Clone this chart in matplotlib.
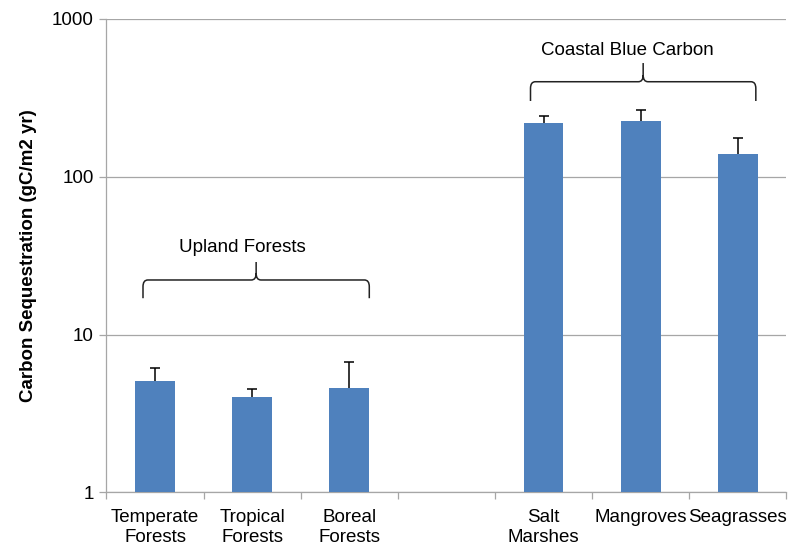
import matplotlib.pyplot as plt
from matplotlib.path import Path
from matplotlib.patches import PathPatch
import matplotlib.transforms as mtransforms
from matplotlib.ticker import FixedLocator, NullLocator

plt.rcParams['font.family'] = ['Liberation Sans', 'DejaVu Sans']

# Data
categories = ['Temperate\nForests', 'Tropical\nForests', 'Boreal\nForests', '',
              'Salt\nMarshes', 'Mangroves', 'Seagrasses']
values = [5.1, 4.0, 4.6, None, 218, 226, 139]
upper = [6.1, 4.5, 6.7, None, 242, 265, 176]
group_labels = ['Upland Forests', 'Coastal Blue Carbon']

fig = plt.figure(figsize=(7.97, 5.45), dpi=100)
ax = fig.add_axes([0.1336, 0.0967, 0.853, 0.8686])

xs = [i for i, v in enumerate(values) if v is not None]
vals = [values[i] for i in xs]
ups = [upper[i] for i in xs]

ax.bar(xs, vals, width=0.41, color='#4F81BD', zorder=3)
# upper error bars only, cap on top
ax.vlines(xs, vals, ups, color='black', linewidth=1.1, zorder=4)
ax.plot(xs, ups, ls='none', marker='_', ms=7, mew=1.1, color='black', zorder=4)

ax.set_yscale('log')
ax.set_ylim(1, 1000)
ax.set_xlim(-0.5, len(categories) - 0.5)
ax.yaxis.set_major_locator(FixedLocator([1, 10, 100, 1000]))
ax.yaxis.set_minor_locator(NullLocator())
ax.set_yticklabels(['1', '10', '100', '1000'])
ax.yaxis.grid(True, color='#a6a6a6', linewidth=0.9, zorder=0)

# category labels between boundary ticks
ax.set_xticks([i - 0.5 for i in range(len(categories) + 1)])
ax.set_xticklabels([])
ax.set_xticks(range(len(categories)), minor=True)
ax.set_xticklabels(categories, minor=True, fontsize=13.5, linespacing=1.2)
ax.tick_params(axis='x', which='minor', length=0, pad=12)
ax.tick_params(axis='x', which='major', length=5, color='#a6a6a6', width=0.9)
ax.tick_params(axis='y', length=5, color='#a6a6a6', width=0.9, labelsize=13.5, pad=4)

for s in ['top', 'right']:
    ax.spines[s].set_visible(False)
for s in ['left', 'bottom']:
    ax.spines[s].set_color('#a6a6a6')
    ax.spines[s].set_linewidth(0.9)

ax.set_ylabel('Carbon Sequestration (gC/m2 yr)', fontsize=13.5, fontweight='bold', labelpad=11)

trans = mtransforms.blended_transform_factory(ax.transData, ax.transAxes)


def brace(x0, x1, y_end, y_line, y_tip, rx=0.05, ry=0.014):
    xc = (x0 + x1) / 2
    verts = [(x0, y_end), (x0, y_line - ry), (x0, y_line), (x0 + rx, y_line),
             (xc - rx, y_line), (xc, y_line), (xc, y_line + ry), (xc, y_tip),
             (xc, y_line + ry), (xc, y_line), (xc + rx, y_line),
             (x1 - rx, y_line), (x1, y_line), (x1, y_line - ry), (x1, y_end)]
    codes = [Path.MOVETO, Path.LINETO, Path.CURVE3, Path.CURVE3,
             Path.LINETO, Path.CURVE3, Path.CURVE3, Path.LINETO,
             Path.MOVETO, Path.CURVE3, Path.CURVE3,
             Path.LINETO, Path.CURVE3, Path.CURVE3, Path.LINETO]
    ax.add_patch(PathPatch(Path(verts, codes), transform=trans, fill=False,
                           edgecolor='#222222', linewidth=1.1, clip_on=False, zorder=4))


brace(-0.124, 2.206, 0.410, 0.4485, 0.4865)
ax.text(0.9, 0.518, group_labels[0], transform=trans, ha='center', va='center', fontsize=13.5)
brace(3.866, 6.186, 0.8266, 0.8673, 0.9068)
ax.text(4.86, 0.9343, group_labels[1], transform=trans, ha='center', va='center', fontsize=13.5)

fig.savefig('out.png', dpi=100)
